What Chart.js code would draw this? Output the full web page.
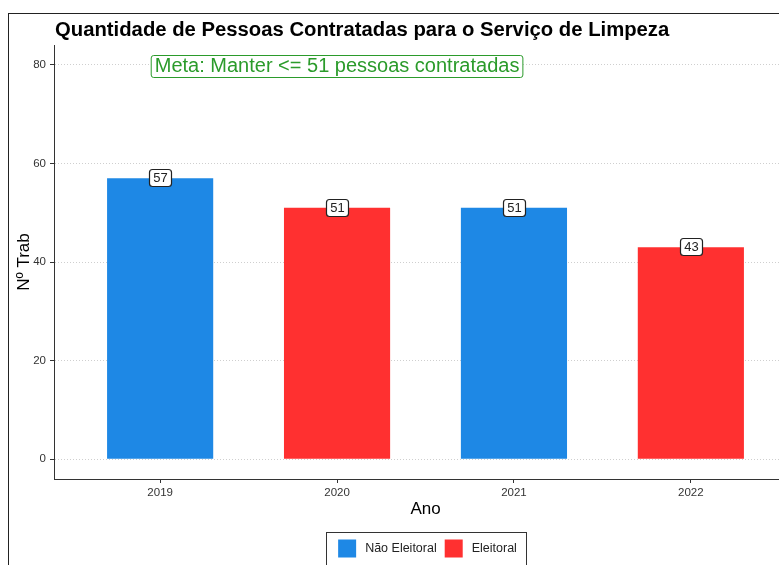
<!DOCTYPE html>
<html lang="pt-BR">
<head>
<meta charset="utf-8">
<title>Quantidade de Pessoas Contratadas</title>
<script src="https://cdn.jsdelivr.net/npm/chart.js@4.4.1/dist/chart.umd.min.js"></script>
<style>
    html, body {
        margin: 0;
        padding: 0;
        background: #fff;
        width: 779px;
        height: 565px;
        overflow: hidden;
    }
    #frame {
        position: absolute;
        left: 8px;
        top: 13px;
        width: 834px;
        height: 600px;
        border: 1px solid #222;
    }
    canvas {
        display: block;
    }
</style>
</head>
<body>
<div id="frame"><canvas id="chart" width="834" height="600"></canvas></div>
<script>
const years = ['2019', '2020', '2021', '2022'];
const naoEleitoral = [57, null, 51, null];
const eleitoral = [null, 51, null, 43];
const yTicks = [0, 20, 40, 60, 80];
const metaText = 'Meta: Manter <= 51 pessoas contratadas';
const metaYear = '2020';
const metaValue = 80;
const chartTitle = 'Quantidade de Pessoas Contratadas para o Serviço de Limpeza';

const FONT = '"Liberation Sans", Arial, sans-serif';
const BLUE = '#1E88E5';
const RED = '#FF3030';
const GREEN = '#2b9b2b';

function toPoints(values) {
    return values
        .map((value, index) => ({ x: index, y: value }))
        .filter((point) => point.y !== null);
}

function roundRect(ctx, x, y, w, h, r) {
    ctx.beginPath();
    ctx.moveTo(x + r, y);
    ctx.lineTo(x + w - r, y);
    ctx.quadraticCurveTo(x + w, y, x + w, y + r);
    ctx.lineTo(x + w, y + h - r);
    ctx.quadraticCurveTo(x + w, y + h, x + w - r, y + h);
    ctx.lineTo(x + r, y + h);
    ctx.quadraticCurveTo(x, y + h, x, y + h - r);
    ctx.lineTo(x, y + r);
    ctx.quadraticCurveTo(x, y, x + r, y);
    ctx.closePath();
}

// labels, annotation, title and legend drawn on top of the chart
const extrasPlugin = {
    id: 'extras',
    afterDatasetsDraw(chart) {
        const { ctx } = chart;
        const yScale = chart.scales.y;
        const xScale = chart.scales.x;

        ctx.save();
        ctx.font = '13px ' + FONT;
        ctx.textAlign = 'center';
        ctx.textBaseline = 'middle';
        chart.data.datasets.forEach((dataset, di) => {
            const meta = chart.getDatasetMeta(di);
            meta.data.forEach((bar, i) => {
                const value = dataset.data[i].y;
                const cx = Math.round(bar.x);
                const cy = Math.round(yScale.getPixelForValue(value));
                const w = Math.round(ctx.measureText(String(value)).width + 8);
                const h = 17;
                roundRect(ctx, cx - w / 2 + 0.5, cy - h / 2, w, h, 3);
                ctx.fillStyle = '#fff';
                ctx.fill();
                ctx.lineWidth = 1.2;
                ctx.strokeStyle = '#222';
                ctx.stroke();
                ctx.fillStyle = '#222';
                ctx.fillText(String(value), cx + 0.5, cy + 0.5);
            });
        });

        // meta annotation
        ctx.font = '20px ' + FONT;
        const mx = xScale.getPixelForValue(years.indexOf(metaYear));
        const my = yScale.getPixelForValue(metaValue) + 1;
        const mw = ctx.measureText(metaText).width + 7;
        const mh = 22;
        roundRect(ctx, mx - mw / 2, Math.round(my - mh / 2) + 0.5, mw, mh, 2.5);
        ctx.fillStyle = '#fff';
        ctx.fill();
        ctx.strokeStyle = GREEN;
        ctx.lineWidth = 1;
        ctx.stroke();
        ctx.fillStyle = GREEN;
        ctx.fillText(metaText, mx, my + 1);
        ctx.restore();
    },
    afterDraw(chart) {
        const { ctx, chartArea } = chart;
        ctx.save();
        ctx.font = 'bold 20.3px ' + FONT;
        ctx.fillStyle = '#000';
        ctx.textAlign = 'left';
        ctx.textBaseline = 'alphabetic';
        ctx.fillText(chartTitle, chartArea.left + 1, 21.5);

        // legend
        const centerX = (chartArea.left + chartArea.right) / 2;
        const centerY = 534.5;
        const box = 18;
        const gap = 9;
        const spacing = 8;
        ctx.font = '12.5px ' + FONT;
        const items = chart.data.datasets.map((ds) => ({
            label: ds.label,
            color: ds.backgroundColor,
            width: ctx.measureText(ds.label).width,
        }));
        const total =
            items.reduce((sum, it) => sum + box + gap + it.width, 0) +
            spacing * (items.length - 1);
        const frameW = 200;
        ctx.strokeStyle = '#333';
        ctx.lineWidth = 1;
        ctx.strokeRect(Math.round(centerX - frameW / 2) + 0.5, 518.5, frameW, 34);

        let x = centerX - total / 2 + 2;
        ctx.textBaseline = 'middle';
        items.forEach((it) => {
            ctx.fillStyle = it.color;
            ctx.fillRect(x, centerY - box / 2, box, box);
            ctx.fillStyle = '#222';
            ctx.fillText(it.label, x + box + gap, centerY + 0.5);
            x += box + gap + it.width + spacing;
        });
        ctx.restore();
    },
};

const chartCanvas = document.getElementById('chart');

new Chart(chartCanvas, {
    type: 'bar',
    data: {
        datasets: [
            {
                label: 'Não Eleitoral',
                data: toPoints(naoEleitoral),
                backgroundColor: BLUE,
            },
            {
                label: 'Eleitoral',
                data: toPoints(eleitoral),
                backgroundColor: RED,
            },
        ],
    },
    options: {
        responsive: false,
        animation: false,
        devicePixelRatio: 1,
        grouped: false,
        barPercentage: 0.6,
        categoryPercentage: 1,
        layout: { padding: { top: 31, left: 0, right: 46, bottom: 89 } },
        plugins: {
            legend: { display: false },
            title: { display: false },
            tooltip: { enabled: false },
        },
        scales: {
            x: {
                type: 'linear',
                min: -0.6,
                max: 3.6,
                offset: false,
                afterBuildTicks: (axis) => {
                    axis.ticks = years.map((_, i) => ({ value: i }));
                },
                afterFit: (axis) => {
                    axis.height = 46;
                },
                grid: {
                    offset: false,
                    color: 'rgba(0,0,0,0)',
                    tickColor: '#333',
                    tickLength: 4,
                    lineWidth: 1,
                },
                border: { display: true, color: '#333', width: 1 },
                ticks: {
                    padding: 3,
                    color: '#333',
                    font: { family: FONT, size: 11.5 },
                    maxRotation: 0,
                    callback: (value) => years[value],
                },
                title: {
                    display: true,
                    text: 'Ano',
                    color: '#000',
                    font: { family: FONT, size: 17 },
                    padding: { top: 0, bottom: 5 },
                },
            },
            y: {
                min: -4,
                max: 84,
                afterBuildTicks: (axis) => {
                    axis.ticks = yTicks.map((v) => ({ value: v }));
                },
                afterFit: (axis) => {
                    axis.width = 45;
                },
                grid: {
                    color: '#cfcfcf',
                    tickColor: '#333',
                    tickLength: 4,
                    tickBorderDash: [],
                    lineWidth: 1,
                },
                border: { display: true, color: '#333', width: 1, dash: [1, 2] },
                ticks: {
                    padding: 4,
                    color: '#333',
                    font: { family: FONT, size: 11.5 },
                },
                title: {
                    display: true,
                    text: 'Nº Trab',
                    color: '#000',
                    font: { family: FONT, size: 17 },
                    padding: { top: 5, bottom: 0 },
                },
            },
        },
    },
    plugins: [extrasPlugin],
});
</script>
</body>
</html>
